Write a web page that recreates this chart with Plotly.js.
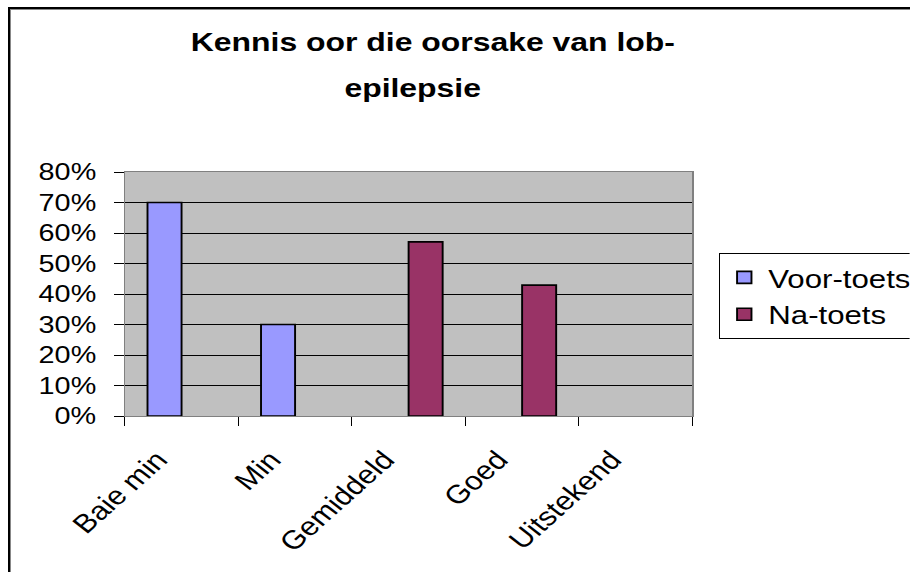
<!DOCTYPE html>
<html>
<head>
<meta charset="utf-8">
<script src="https://cdn.plot.ly/plotly-3.0.1.min.js"></script>
<style>
  html, body { margin: 0; padding: 0; background: #ffffff; overflow: hidden; }
  #wrap { position: absolute; left: 0; top: 0; width: 910px; height: 572px; overflow: hidden; background: #fff; }
  #chart { position: absolute; left: 0; top: 0; width: 758px; height: 572px; transform: scale(1.2, 1); transform-origin: 0 0; }
  #frame { position: absolute; left: 8px; top: 7px; width: 1000px; height: 1000px; border-left: 2px solid #000; border-top: 2px solid #000; }
  #frame2 { position: absolute; left: 10px; top: 9px; width: 1000px; height: 1000px; border-left: 1px solid #888; border-top: 1px solid #888; }
</style>
</head>
<body>
<div id="wrap">
  <div id="chart"></div>
  <div id="frame"></div>
  <div id="frame2"></div>
</div>
<script>
const categories = ["Baie min", "Min", "Gemiddeld", "Goed", "Uitstekend"];
const voorToets = [0.70, 0.30, null, null, null];
const naToets = [null, null, 0.571, 0.429, null];
const seriesNames = ["Voor-toets", "Na-toets"];
const titleLine1 = "Kennis oor die oorsake van lob-";
const titleLine2 = "epilepsie";
const yTickVals = [0, 0.1, 0.2, 0.3, 0.4, 0.5, 0.6, 0.7, 0.8];

const FONT = "Arial, 'Liberation Sans', sans-serif";

const traces = [
  {
    type: "bar", name: seriesNames[0], x: categories, y: voorToets,
    marker: { color: "#9999FF", line: { color: "#000000", width: 1.6 } },
    hoverinfo: "none"
  },
  {
    type: "bar", name: seriesNames[1], x: categories, y: naToets,
    marker: { color: "#993366", line: { color: "#000000", width: 1.6 } },
    hoverinfo: "none"
  }
];

const layout = {
  width: 758, height: 572,
  margin: { l: 104, r: 181, t: 172, b: 156, pad: 0, autoexpand: false },
  paper_bgcolor: "rgba(0,0,0,0)",
  plot_bgcolor: "#C0C0C0",
  font: { family: FONT, color: "#000000", size: 24 },
  barmode: "group",
  bargap: 0.4,
  bargroupgap: 0,
  showlegend: true,
  legend: {
    x: 1.047, y: 0.668, xanchor: "left", yanchor: "top",
    bgcolor: "#ffffff", bordercolor: "#000000", borderwidth: 1,
    font: { family: FONT, size: 26, color: "#000" },
    tracegroupgap: 0, itemwidth: 30
  },
  xaxis: {
    type: "category",
    showgrid: false, zeroline: false,
    showline: true, linecolor: "#808080", linewidth: 1, mirror: true,
    ticks: "outside", tickson: "boundaries", ticklen: 9, tickcolor: "#000", tickwidth: 1,
    tickangle: -47,
    ticklabelstandoff: 17,
    ticklabelshift: -20,
    tickfont: { family: FONT, size: 26, color: "#000" },
    fixedrange: true
  },
  yaxis: {
    range: [0, 0.8],
    tickvals: yTickVals,
    tickformat: ".0%",
    showgrid: true, gridcolor: "#000000", gridwidth: 1,
    zeroline: true, zerolinecolor: "#000000", zerolinewidth: 1,
    showline: true, linecolor: "#808080", linewidth: 1, mirror: true,
    ticks: "outside", ticklen: 8, tickcolor: "#000", tickwidth: 1,
    ticklabelstandoff: 10,
    tickfont: { family: FONT, size: 24, color: "#000" },
    fixedrange: true
  },
  annotations: [
    {
      text: "<b>" + titleLine1 + "</b>", xref: "paper", yref: "paper",
      x: 0.542, y: 1.531, xanchor: "center", yanchor: "middle", showarrow: false,
      font: { family: FONT, size: 26.6, color: "#000" }
    },
    {
      text: "<b>" + titleLine2 + "</b>", xref: "paper", yref: "paper",
      x: 0.508, y: 1.344, xanchor: "center", yanchor: "middle", showarrow: false,
      font: { family: FONT, size: 26.6, color: "#000" }
    }
  ]
};

Plotly.newPlot("chart", traces, layout, { displayModeBar: false, staticPlot: true });
</script>
</body>
</html>
